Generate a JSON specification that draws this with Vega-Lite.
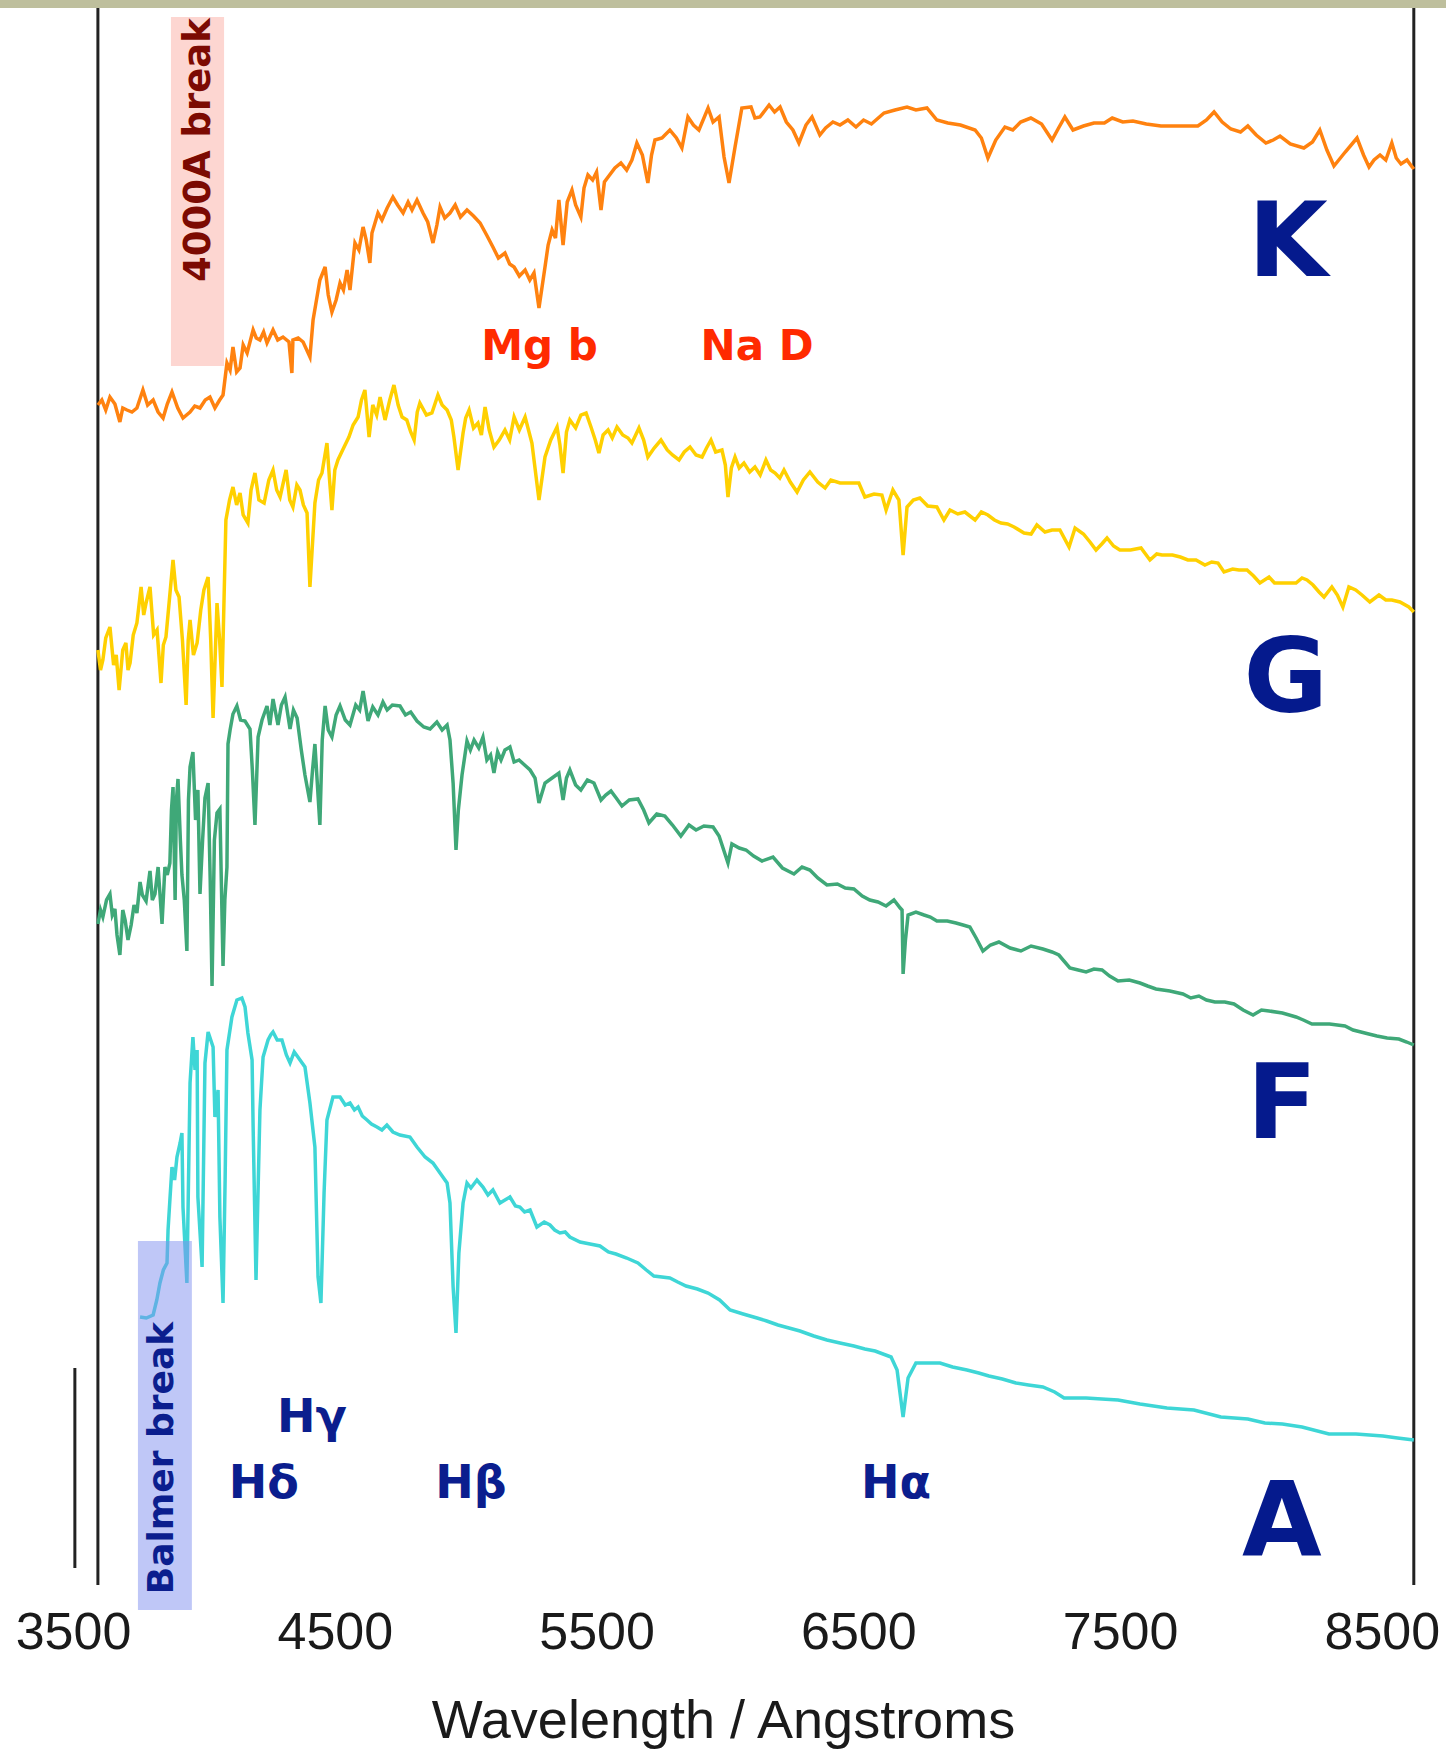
{
  "$schema": "https://vega.github.io/schema/vega-lite/v6.json",
  "width": 1446,
  "height": 1585,
  "autosize": {"type": "none"},
  "padding": {"left": 0, "top": 0, "right": 0, "bottom": 165},
  "background": "white",
  "config": {"view": {"stroke": null}},
  "encoding": {
    "x": {
      "field": "wavelength", "type": "quantitative",
      "scale": {"domain": [3221, 8745], "nice": false, "zero": false},
      "title": "Wavelength / Angstroms",
      "axis": {
        "values": [3500, 4500, 5500, 6500, 7500, 8500], "format": "d",
        "domain": false, "ticks": false, "grid": false,
        "labelFont": "Liberation Sans", "labelFontSize": 52, "labelColor": "#1a1a1a",
        "labelPadding": 22, "labelFlush": false, "labelOverlap": false,
        "titleFont": "Liberation Sans", "titleFontSize": 54, "titleFontWeight": "normal",
        "titleColor": "#1a1a1a", "titlePadding": 36
      }
    },
    "y": {
      "field": "flux", "type": "quantitative",
      "scale": {"domain": [15, 1600], "nice": false, "zero": false},
      "axis": null
    }
  },
  "layer": [
    {
      "data": {"values": [{"wavelength": 3221, "wavelength2": 8745, "flux": 1592, "flux2": 1600}]},
      "mark": {"type": "rect", "color": "#BEBF9D"},
      "encoding": {"x2": {"field": "wavelength2"}, "y2": {"field": "flux2"}}
    },
    {
      "data": {"values": [{"wavelength": 3874, "wavelength2": 4077, "flux": 1234, "flux2": 1583}]},
      "mark": {"type": "rect", "color": "#FDD6D1"},
      "encoding": {"x2": {"field": "wavelength2"}, "y2": {"field": "flux2"}}
    },
    {
      "data": {"values": [{"wavelength": 3981, "flux": 1450, "label": "4000A break"}]},
      "mark": {"type": "text", "angle": 270, "font": "DejaVu Sans", "fontWeight": "bold", "fontSize": 37, "color": "#7C0A02", "align": "center", "baseline": "middle"},
      "encoding": {"text": {"field": "label"}}
    },
    {
      "data": {"values": [
        {"wavelength": 3595, "flux": 15, "flux2": 1592},
        {"wavelength": 8622, "flux": 15, "flux2": 1592},
        {"wavelength": 3507, "flux": 32, "flux2": 232}
      ]},
      "mark": {"type": "rule", "color": "#222222", "strokeWidth": 3},
      "encoding": {"y2": {"field": "flux2"}}
    },
    {
      "data": {"values": [
{"star":"K","wavelength":3595,"flux":1195},{"star":"K","wavelength":3610,"flux":1200},{"star":"K","wavelength":3625,"flux":1190},{"star":"K","wavelength":3641,"flux":1203},{"star":"K","wavelength":3660,"flux":1196},{"star":"K","wavelength":3679,"flux":1178},{"star":"K","wavelength":3690,"flux":1192},{"star":"K","wavelength":3706,"flux":1190},{"star":"K","wavelength":3725,"flux":1188},{"star":"K","wavelength":3744,"flux":1192},{"star":"K","wavelength":3767,"flux":1210},{"star":"K","wavelength":3785,"flux":1195},{"star":"K","wavelength":3806,"flux":1200},{"star":"K","wavelength":3825,"flux":1188},{"star":"K","wavelength":3844,"flux":1182},{"star":"K","wavelength":3860,"flux":1196},{"star":"K","wavelength":3878,"flux":1208},{"star":"K","wavelength":3900,"flux":1192},{"star":"K","wavelength":3920,"flux":1182},{"star":"K","wavelength":3947,"flux":1188},{"star":"K","wavelength":3965,"flux":1194},{"star":"K","wavelength":3985,"flux":1192},{"star":"K","wavelength":4005,"flux":1200},{"star":"K","wavelength":4023,"flux":1203},{"star":"K","wavelength":4042,"flux":1192},{"star":"K","wavelength":4060,"flux":1200},{"star":"K","wavelength":4073,"flux":1205},{"star":"K","wavelength":4088,"flux":1237},{"star":"K","wavelength":4100,"flux":1230},{"star":"K","wavelength":4111,"flux":1253},{"star":"K","wavelength":4125,"flux":1228},{"star":"K","wavelength":4138,"flux":1232},{"star":"K","wavelength":4150,"flux":1255},{"star":"K","wavelength":4165,"flux":1247},{"star":"K","wavelength":4188,"flux":1270},{"star":"K","wavelength":4200,"flux":1262},{"star":"K","wavelength":4214,"flux":1260},{"star":"K","wavelength":4228,"flux":1268},{"star":"K","wavelength":4241,"flux":1257},{"star":"K","wavelength":4264,"flux":1270},{"star":"K","wavelength":4282,"flux":1260},{"star":"K","wavelength":4302,"flux":1263},{"star":"K","wavelength":4325,"flux":1258},{"star":"K","wavelength":4336,"flux":1227},{"star":"K","wavelength":4340,"flux":1260},{"star":"K","wavelength":4360,"flux":1262},{"star":"K","wavelength":4379,"flux":1258},{"star":"K","wavelength":4405,"flux":1243},{"star":"K","wavelength":4417,"flux":1280},{"star":"K","wavelength":4430,"flux":1300},{"star":"K","wavelength":4443,"flux":1320},{"star":"K","wavelength":4463,"flux":1333},{"star":"K","wavelength":4475,"flux":1305},{"star":"K","wavelength":4489,"flux":1288},{"star":"K","wavelength":4505,"flux":1300},{"star":"K","wavelength":4520,"flux":1317},{"star":"K","wavelength":4533,"flux":1310},{"star":"K","wavelength":4547,"flux":1330},{"star":"K","wavelength":4558,"flux":1310},{"star":"K","wavelength":4577,"flux":1357},{"star":"K","wavelength":4592,"flux":1350},{"star":"K","wavelength":4608,"flux":1373},{"star":"K","wavelength":4620,"flux":1360},{"star":"K","wavelength":4634,"flux":1337},{"star":"K","wavelength":4642,"flux":1367},{"star":"K","wavelength":4665,"flux":1387},{"star":"K","wavelength":4680,"flux":1380},{"star":"K","wavelength":4700,"flux":1392},{"star":"K","wavelength":4722,"flux":1403},{"star":"K","wavelength":4740,"flux":1395},{"star":"K","wavelength":4761,"flux":1387},{"star":"K","wavelength":4780,"flux":1398},{"star":"K","wavelength":4795,"flux":1390},{"star":"K","wavelength":4814,"flux":1400},{"star":"K","wavelength":4837,"flux":1387},{"star":"K","wavelength":4855,"flux":1378},{"star":"K","wavelength":4875,"flux":1357},{"star":"K","wavelength":4890,"flux":1375},{"star":"K","wavelength":4902,"flux":1393},{"star":"K","wavelength":4920,"flux":1382},{"star":"K","wavelength":4940,"flux":1387},{"star":"K","wavelength":4960,"flux":1395},{"star":"K","wavelength":4980,"flux":1383},{"star":"K","wavelength":5005,"flux":1390},{"star":"K","wavelength":5030,"flux":1384},{"star":"K","wavelength":5055,"flux":1377},{"star":"K","wavelength":5080,"flux":1365},{"star":"K","wavelength":5104,"flux":1353},{"star":"K","wavelength":5125,"flux":1342},{"star":"K","wavelength":5150,"flux":1347},{"star":"K","wavelength":5168,"flux":1336},{"star":"K","wavelength":5185,"flux":1333},{"star":"K","wavelength":5205,"flux":1324},{"star":"K","wavelength":5227,"flux":1330},{"star":"K","wavelength":5245,"flux":1320},{"star":"K","wavelength":5261,"flux":1327},{"star":"K","wavelength":5280,"flux":1292},{"star":"K","wavelength":5303,"flux":1333},{"star":"K","wavelength":5315,"flux":1355},{"star":"K","wavelength":5330,"flux":1370},{"star":"K","wavelength":5343,"flux":1362},{"star":"K","wavelength":5356,"flux":1400},{"star":"K","wavelength":5372,"flux":1355},{"star":"K","wavelength":5388,"flux":1398},{"star":"K","wavelength":5406,"flux":1410},{"star":"K","wavelength":5420,"flux":1395},{"star":"K","wavelength":5440,"flux":1383},{"star":"K","wavelength":5452,"flux":1412},{"star":"K","wavelength":5467,"flux":1425},{"star":"K","wavelength":5485,"flux":1420},{"star":"K","wavelength":5500,"flux":1428},{"star":"K","wavelength":5517,"flux":1390},{"star":"K","wavelength":5530,"flux":1418},{"star":"K","wavelength":5544,"flux":1423},{"star":"K","wavelength":5570,"flux":1432},{"star":"K","wavelength":5593,"flux":1437},{"star":"K","wavelength":5615,"flux":1430},{"star":"K","wavelength":5635,"flux":1440},{"star":"K","wavelength":5654,"flux":1457},{"star":"K","wavelength":5675,"flux":1445},{"star":"K","wavelength":5696,"flux":1417},{"star":"K","wavelength":5710,"flux":1445},{"star":"K","wavelength":5723,"flux":1460},{"star":"K","wavelength":5750,"flux":1462},{"star":"K","wavelength":5780,"flux":1470},{"star":"K","wavelength":5805,"flux":1462},{"star":"K","wavelength":5826,"flux":1452},{"star":"K","wavelength":5849,"flux":1483},{"star":"K","wavelength":5870,"flux":1475},{"star":"K","wavelength":5891,"flux":1470},{"star":"K","wavelength":5926,"flux":1492},{"star":"K","wavelength":5945,"flux":1478},{"star":"K","wavelength":5968,"flux":1483},{"star":"K","wavelength":5987,"flux":1443},{"star":"K","wavelength":6006,"flux":1417},{"star":"K","wavelength":6029,"flux":1453},{"star":"K","wavelength":6055,"flux":1492},{"star":"K","wavelength":6090,"flux":1493},{"star":"K","wavelength":6105,"flux":1482},{"star":"K","wavelength":6124,"flux":1483},{"star":"K","wavelength":6159,"flux":1495},{"star":"K","wavelength":6180,"flux":1488},{"star":"K","wavelength":6201,"flux":1493},{"star":"K","wavelength":6225,"flux":1478},{"star":"K","wavelength":6250,"flux":1470},{"star":"K","wavelength":6273,"flux":1457},{"star":"K","wavelength":6300,"flux":1475},{"star":"K","wavelength":6323,"flux":1483},{"star":"K","wavelength":6353,"flux":1465},{"star":"K","wavelength":6375,"flux":1472},{"star":"K","wavelength":6403,"flux":1478},{"star":"K","wavelength":6430,"flux":1475},{"star":"K","wavelength":6460,"flux":1480},{"star":"K","wavelength":6491,"flux":1473},{"star":"K","wavelength":6520,"flux":1480},{"star":"K","wavelength":6550,"flux":1476},{"star":"K","wavelength":6598,"flux":1487},{"star":"K","wavelength":6640,"flux":1490},{"star":"K","wavelength":6686,"flux":1493},{"star":"K","wavelength":6720,"flux":1490},{"star":"K","wavelength":6762,"flux":1492},{"star":"K","wavelength":6800,"flux":1480},{"star":"K","wavelength":6842,"flux":1477},{"star":"K","wavelength":6890,"flux":1475},{"star":"K","wavelength":6946,"flux":1470},{"star":"K","wavelength":6970,"flux":1462},{"star":"K","wavelength":6995,"flux":1442},{"star":"K","wavelength":7025,"flux":1460},{"star":"K","wavelength":7060,"flux":1473},{"star":"K","wavelength":7090,"flux":1470},{"star":"K","wavelength":7120,"flux":1478},{"star":"K","wavelength":7159,"flux":1482},{"star":"K","wavelength":7200,"flux":1476},{"star":"K","wavelength":7240,"flux":1460},{"star":"K","wavelength":7265,"flux":1472},{"star":"K","wavelength":7289,"flux":1483},{"star":"K","wavelength":7320,"flux":1470},{"star":"K","wavelength":7360,"flux":1474},{"star":"K","wavelength":7400,"flux":1477},{"star":"K","wavelength":7440,"flux":1477},{"star":"K","wavelength":7470,"flux":1482},{"star":"K","wavelength":7510,"flux":1478},{"star":"K","wavelength":7549,"flux":1479},{"star":"K","wavelength":7600,"flux":1476},{"star":"K","wavelength":7656,"flux":1474},{"star":"K","wavelength":7720,"flux":1474},{"star":"K","wavelength":7797,"flux":1474},{"star":"K","wavelength":7830,"flux":1480},{"star":"K","wavelength":7859,"flux":1488},{"star":"K","wavelength":7890,"flux":1478},{"star":"K","wavelength":7923,"flux":1471},{"star":"K","wavelength":7960,"flux":1468},{"star":"K","wavelength":7988,"flux":1474},{"star":"K","wavelength":8020,"flux":1465},{"star":"K","wavelength":8057,"flux":1457},{"star":"K","wavelength":8085,"flux":1460},{"star":"K","wavelength":8111,"flux":1464},{"star":"K","wavelength":8150,"flux":1456},{"star":"K","wavelength":8202,"flux":1452},{"star":"K","wavelength":8235,"flux":1458},{"star":"K","wavelength":8263,"flux":1470},{"star":"K","wavelength":8290,"flux":1450},{"star":"K","wavelength":8317,"flux":1434},{"star":"K","wavelength":8360,"flux":1448},{"star":"K","wavelength":8405,"flux":1462},{"star":"K","wavelength":8430,"flux":1445},{"star":"K","wavelength":8451,"flux":1433},{"star":"K","wavelength":8470,"flux":1440},{"star":"K","wavelength":8493,"flux":1445},{"star":"K","wavelength":8515,"flux":1440},{"star":"K","wavelength":8538,"flux":1457},{"star":"K","wavelength":8555,"flux":1442},{"star":"K","wavelength":8573,"flux":1436},{"star":"K","wavelength":8596,"flux":1440},{"star":"K","wavelength":8610,"flux":1435},{"star":"K","wavelength":8622,"flux":1431},
{"star":"G","wavelength":3595,"flux":950},{"star":"G","wavelength":3605,"flux":930},{"star":"G","wavelength":3614,"flux":940},{"star":"G","wavelength":3625,"flux":962},{"star":"G","wavelength":3641,"flux":973},{"star":"G","wavelength":3655,"flux":935},{"star":"G","wavelength":3665,"flux":945},{"star":"G","wavelength":3676,"flux":910},{"star":"G","wavelength":3690,"flux":950},{"star":"G","wavelength":3702,"flux":957},{"star":"G","wavelength":3710,"flux":930},{"star":"G","wavelength":3718,"flux":937},{"star":"G","wavelength":3730,"flux":965},{"star":"G","wavelength":3744,"flux":977},{"star":"G","wavelength":3760,"flux":1013},{"star":"G","wavelength":3770,"flux":985},{"star":"G","wavelength":3779,"flux":997},{"star":"G","wavelength":3794,"flux":1013},{"star":"G","wavelength":3808,"flux":965},{"star":"G","wavelength":3821,"flux":970},{"star":"G","wavelength":3836,"flux":917},{"star":"G","wavelength":3845,"flux":955},{"star":"G","wavelength":3855,"flux":963},{"star":"G","wavelength":3868,"flux":1000},{"star":"G","wavelength":3882,"flux":1040},{"star":"G","wavelength":3893,"flux":1010},{"star":"G","wavelength":3905,"flux":1003},{"star":"G","wavelength":3918,"flux":960},{"star":"G","wavelength":3932,"flux":895},{"star":"G","wavelength":3940,"flux":960},{"star":"G","wavelength":3947,"flux":980},{"star":"G","wavelength":3960,"flux":945},{"star":"G","wavelength":3974,"flux":957},{"star":"G","wavelength":3988,"flux":990},{"star":"G","wavelength":4000,"flux":1010},{"star":"G","wavelength":4016,"flux":1023},{"star":"G","wavelength":4026,"flux":960},{"star":"G","wavelength":4035,"flux":882},{"star":"G","wavelength":4050,"flux":997},{"star":"G","wavelength":4060,"flux":960},{"star":"G","wavelength":4069,"flux":913},{"star":"G","wavelength":4084,"flux":1080},{"star":"G","wavelength":4098,"flux":1100},{"star":"G","wavelength":4111,"flux":1113},{"star":"G","wavelength":4125,"flux":1095},{"star":"G","wavelength":4138,"flux":1107},{"star":"G","wavelength":4150,"flux":1085},{"star":"G","wavelength":4168,"flux":1077},{"star":"G","wavelength":4180,"flux":1110},{"star":"G","wavelength":4195,"flux":1127},{"star":"G","wavelength":4210,"flux":1100},{"star":"G","wavelength":4230,"flux":1097},{"star":"G","wavelength":4248,"flux":1120},{"star":"G","wavelength":4264,"flux":1130},{"star":"G","wavelength":4278,"flux":1110},{"star":"G","wavelength":4291,"flux":1103},{"star":"G","wavelength":4314,"flux":1130},{"star":"G","wavelength":4328,"flux":1100},{"star":"G","wavelength":4340,"flux":1093},{"star":"G","wavelength":4355,"flux":1115},{"star":"G","wavelength":4367,"flux":1110},{"star":"G","wavelength":4380,"flux":1095},{"star":"G","wavelength":4394,"flux":1087},{"star":"G","wavelength":4405,"flux":1013},{"star":"G","wavelength":4424,"flux":1097},{"star":"G","wavelength":4438,"flux":1120},{"star":"G","wavelength":4451,"flux":1127},{"star":"G","wavelength":4470,"flux":1157},{"star":"G","wavelength":4480,"flux":1120},{"star":"G","wavelength":4489,"flux":1090},{"star":"G","wavelength":4500,"flux":1130},{"star":"G","wavelength":4512,"flux":1140},{"star":"G","wavelength":4530,"flux":1150},{"star":"G","wavelength":4554,"flux":1163},{"star":"G","wavelength":4570,"flux":1175},{"star":"G","wavelength":4589,"flux":1183},{"star":"G","wavelength":4602,"flux":1200},{"star":"G","wavelength":4615,"flux":1210},{"star":"G","wavelength":4631,"flux":1163},{"star":"G","wavelength":4645,"flux":1195},{"star":"G","wavelength":4660,"flux":1185},{"star":"G","wavelength":4673,"flux":1203},{"star":"G","wavelength":4692,"flux":1180},{"star":"G","wavelength":4710,"flux":1200},{"star":"G","wavelength":4726,"flux":1215},{"star":"G","wavelength":4742,"flux":1195},{"star":"G","wavelength":4757,"flux":1183},{"star":"G","wavelength":4775,"flux":1180},{"star":"G","wavelength":4790,"flux":1168},{"star":"G","wavelength":4803,"flux":1160},{"star":"G","wavelength":4815,"flux":1188},{"star":"G","wavelength":4825,"flux":1197},{"star":"G","wavelength":4850,"flux":1185},{"star":"G","wavelength":4871,"flux":1187},{"star":"G","wavelength":4894,"flux":1205},{"star":"G","wavelength":4910,"flux":1195},{"star":"G","wavelength":4929,"flux":1190},{"star":"G","wavelength":4945,"flux":1180},{"star":"G","wavelength":4955,"flux":1163},{"star":"G","wavelength":4971,"flux":1130},{"star":"G","wavelength":4990,"flux":1167},{"star":"G","wavelength":5000,"flux":1182},{"star":"G","wavelength":5013,"flux":1190},{"star":"G","wavelength":5030,"flux":1172},{"star":"G","wavelength":5047,"flux":1177},{"star":"G","wavelength":5060,"flux":1165},{"star":"G","wavelength":5074,"flux":1193},{"star":"G","wavelength":5090,"flux":1170},{"star":"G","wavelength":5108,"flux":1153},{"star":"G","wavelength":5128,"flux":1160},{"star":"G","wavelength":5150,"flux":1170},{"star":"G","wavelength":5168,"flux":1160},{"star":"G","wavelength":5185,"flux":1183},{"star":"G","wavelength":5205,"flux":1170},{"star":"G","wavelength":5227,"flux":1183},{"star":"G","wavelength":5240,"flux":1170},{"star":"G","wavelength":5253,"flux":1157},{"star":"G","wavelength":5280,"flux":1100},{"star":"G","wavelength":5303,"flux":1143},{"star":"G","wavelength":5325,"flux":1160},{"star":"G","wavelength":5349,"flux":1173},{"star":"G","wavelength":5360,"flux":1155},{"star":"G","wavelength":5372,"flux":1127},{"star":"G","wavelength":5385,"flux":1168},{"star":"G","wavelength":5398,"flux":1180},{"star":"G","wavelength":5420,"flux":1172},{"star":"G","wavelength":5440,"flux":1185},{"star":"G","wavelength":5460,"flux":1187},{"star":"G","wavelength":5480,"flux":1172},{"star":"G","wavelength":5495,"flux":1160},{"star":"G","wavelength":5509,"flux":1147},{"star":"G","wavelength":5525,"flux":1165},{"star":"G","wavelength":5544,"flux":1170},{"star":"G","wavelength":5560,"flux":1162},{"star":"G","wavelength":5578,"flux":1173},{"star":"G","wavelength":5600,"flux":1165},{"star":"G","wavelength":5620,"flux":1162},{"star":"G","wavelength":5635,"flux":1157},{"star":"G","wavelength":5662,"flux":1172},{"star":"G","wavelength":5680,"flux":1160},{"star":"G","wavelength":5696,"flux":1143},{"star":"G","wavelength":5720,"flux":1152},{"star":"G","wavelength":5746,"flux":1160},{"star":"G","wavelength":5770,"flux":1150},{"star":"G","wavelength":5790,"flux":1145},{"star":"G","wavelength":5815,"flux":1140},{"star":"G","wavelength":5835,"flux":1148},{"star":"G","wavelength":5857,"flux":1153},{"star":"G","wavelength":5880,"flux":1145},{"star":"G","wavelength":5903,"flux":1143},{"star":"G","wavelength":5920,"flux":1152},{"star":"G","wavelength":5937,"flux":1160},{"star":"G","wavelength":5955,"flux":1148},{"star":"G","wavelength":5979,"flux":1150},{"star":"G","wavelength":5992,"flux":1135},{"star":"G","wavelength":6002,"flux":1103},{"star":"G","wavelength":6015,"flux":1132},{"star":"G","wavelength":6029,"flux":1143},{"star":"G","wavelength":6045,"flux":1132},{"star":"G","wavelength":6063,"flux":1137},{"star":"G","wavelength":6085,"flux":1128},{"star":"G","wavelength":6105,"flux":1133},{"star":"G","wavelength":6125,"flux":1125},{"star":"G","wavelength":6147,"flux":1140},{"star":"G","wavelength":6165,"flux":1130},{"star":"G","wavelength":6182,"flux":1127},{"star":"G","wavelength":6200,"flux":1122},{"star":"G","wavelength":6216,"flux":1130},{"star":"G","wavelength":6240,"flux":1118},{"star":"G","wavelength":6266,"flux":1108},{"star":"G","wavelength":6290,"flux":1120},{"star":"G","wavelength":6315,"flux":1128},{"star":"G","wavelength":6345,"flux":1118},{"star":"G","wavelength":6373,"flux":1112},{"star":"G","wavelength":6395,"flux":1120},{"star":"G","wavelength":6430,"flux":1117},{"star":"G","wavelength":6470,"flux":1117},{"star":"G","wavelength":6502,"flux":1117},{"star":"G","wavelength":6525,"flux":1103},{"star":"G","wavelength":6560,"flux":1106},{"star":"G","wavelength":6590,"flux":1105},{"star":"G","wavelength":6606,"flux":1090},{"star":"G","wavelength":6632,"flux":1110},{"star":"G","wavelength":6655,"flux":1100},{"star":"G","wavelength":6671,"flux":1045},{"star":"G","wavelength":6686,"flux":1093},{"star":"G","wavelength":6710,"flux":1100},{"star":"G","wavelength":6735,"flux":1102},{"star":"G","wavelength":6765,"flux":1094},{"star":"G","wavelength":6800,"flux":1093},{"star":"G","wavelength":6827,"flux":1080},{"star":"G","wavelength":6850,"flux":1090},{"star":"G","wavelength":6880,"flux":1086},{"star":"G","wavelength":6907,"flux":1088},{"star":"G","wavelength":6946,"flux":1080},{"star":"G","wavelength":6970,"flux":1088},{"star":"G","wavelength":6995,"flux":1085},{"star":"G","wavelength":7020,"flux":1080},{"star":"G","wavelength":7045,"flux":1077},{"star":"G","wavelength":7070,"flux":1076},{"star":"G","wavelength":7095,"flux":1073},{"star":"G","wavelength":7133,"flux":1067},{"star":"G","wavelength":7160,"flux":1066},{"star":"G","wavelength":7182,"flux":1075},{"star":"G","wavelength":7213,"flux":1068},{"star":"G","wavelength":7240,"flux":1070},{"star":"G","wavelength":7270,"flux":1070},{"star":"G","wavelength":7305,"flux":1053},{"star":"G","wavelength":7328,"flux":1072},{"star":"G","wavelength":7360,"flux":1066},{"star":"G","wavelength":7385,"flux":1058},{"star":"G","wavelength":7408,"flux":1050},{"star":"G","wavelength":7430,"flux":1056},{"star":"G","wavelength":7450,"flux":1062},{"star":"G","wavelength":7475,"flux":1054},{"star":"G","wavelength":7499,"flux":1050},{"star":"G","wavelength":7540,"flux":1050},{"star":"G","wavelength":7580,"flux":1052},{"star":"G","wavelength":7614,"flux":1040},{"star":"G","wavelength":7640,"flux":1046},{"star":"G","wavelength":7660,"flux":1045},{"star":"G","wavelength":7700,"flux":1045},{"star":"G","wavelength":7730,"flux":1043},{"star":"G","wavelength":7759,"flux":1040},{"star":"G","wavelength":7790,"flux":1040},{"star":"G","wavelength":7824,"flux":1035},{"star":"G","wavelength":7850,"flux":1038},{"star":"G","wavelength":7874,"flux":1037},{"star":"G","wavelength":7897,"flux":1028},{"star":"G","wavelength":7930,"flux":1031},{"star":"G","wavelength":7954,"flux":1030},{"star":"G","wavelength":7985,"flux":1030},{"star":"G","wavelength":8010,"flux":1024},{"star":"G","wavelength":8034,"flux":1017},{"star":"G","wavelength":8069,"flux":1023},{"star":"G","wavelength":8090,"flux":1017},{"star":"G","wavelength":8114,"flux":1017},{"star":"G","wavelength":8140,"flux":1017},{"star":"G","wavelength":8172,"flux":1017},{"star":"G","wavelength":8195,"flux":1022},{"star":"G","wavelength":8214,"flux":1020},{"star":"G","wavelength":8237,"flux":1015},{"star":"G","wavelength":8260,"flux":1008},{"star":"G","wavelength":8279,"flux":1003},{"star":"G","wavelength":8309,"flux":1013},{"star":"G","wavelength":8330,"flux":1005},{"star":"G","wavelength":8351,"flux":993},{"star":"G","wavelength":8374,"flux":1013},{"star":"G","wavelength":8400,"flux":1010},{"star":"G","wavelength":8424,"flux":1005},{"star":"G","wavelength":8454,"flux":998},{"star":"G","wavelength":8489,"flux":1005},{"star":"G","wavelength":8515,"flux":1000},{"star":"G","wavelength":8538,"flux":1000},{"star":"G","wavelength":8569,"flux":998},{"star":"G","wavelength":8603,"flux":993},{"star":"G","wavelength":8622,"flux":988},
{"star":"F","wavelength":3595,"flux":676},{"star":"F","wavelength":3605,"flux":690},{"star":"F","wavelength":3614,"flux":683},{"star":"F","wavelength":3628,"flux":700},{"star":"F","wavelength":3641,"flux":706},{"star":"F","wavelength":3650,"flux":685},{"star":"F","wavelength":3660,"flux":691},{"star":"F","wavelength":3668,"flux":665},{"star":"F","wavelength":3679,"flux":645},{"star":"F","wavelength":3690,"flux":690},{"star":"F","wavelength":3699,"flux":680},{"star":"F","wavelength":3710,"flux":660},{"star":"F","wavelength":3722,"flux":675},{"star":"F","wavelength":3733,"flux":695},{"star":"F","wavelength":3744,"flux":687},{"star":"F","wavelength":3756,"flux":718},{"star":"F","wavelength":3765,"flux":705},{"star":"F","wavelength":3779,"flux":699},{"star":"F","wavelength":3794,"flux":729},{"star":"F","wavelength":3803,"flux":700},{"star":"F","wavelength":3813,"flux":706},{"star":"F","wavelength":3825,"flux":733},{"star":"F","wavelength":3840,"flux":676},{"star":"F","wavelength":3851,"flux":733},{"star":"F","wavelength":3860,"flux":725},{"star":"F","wavelength":3870,"flux":737},{"star":"F","wavelength":3876,"flux":790},{"star":"F","wavelength":3882,"flux":813},{"star":"F","wavelength":3890,"flux":700},{"star":"F","wavelength":3895,"flux":800},{"star":"F","wavelength":3901,"flux":821},{"star":"F","wavelength":3910,"flux":760},{"star":"F","wavelength":3916,"flux":725},{"star":"F","wavelength":3925,"flux":700},{"star":"F","wavelength":3935,"flux":649},{"star":"F","wavelength":3941,"flux":800},{"star":"F","wavelength":3947,"flux":833},{"star":"F","wavelength":3958,"flux":848},{"star":"F","wavelength":3968,"flux":780},{"star":"F","wavelength":3977,"flux":810},{"star":"F","wavelength":3985,"flux":706},{"star":"F","wavelength":3995,"flux":760},{"star":"F","wavelength":4004,"flux":802},{"star":"F","wavelength":4016,"flux":817},{"star":"F","wavelength":4024,"flux":720},{"star":"F","wavelength":4031,"flux":614},{"star":"F","wavelength":4040,"flux":760},{"star":"F","wavelength":4050,"flux":787},{"star":"F","wavelength":4061,"flux":791},{"star":"F","wavelength":4073,"flux":634},{"star":"F","wavelength":4080,"flux":700},{"star":"F","wavelength":4088,"flux":733},{"star":"F","wavelength":4092,"flux":856},{"star":"F","wavelength":4100,"flux":870},{"star":"F","wavelength":4111,"flux":886},{"star":"F","wavelength":4126,"flux":894},{"star":"F","wavelength":4140,"flux":880},{"star":"F","wavelength":4157,"flux":879},{"star":"F","wavelength":4176,"flux":871},{"star":"F","wavelength":4185,"flux":830},{"star":"F","wavelength":4195,"flux":775},{"star":"F","wavelength":4207,"flux":863},{"star":"F","wavelength":4222,"flux":880},{"star":"F","wavelength":4241,"flux":894},{"star":"F","wavelength":4252,"flux":875},{"star":"F","wavelength":4264,"flux":901},{"star":"F","wavelength":4283,"flux":875},{"star":"F","wavelength":4296,"flux":895},{"star":"F","wavelength":4310,"flux":903},{"star":"F","wavelength":4329,"flux":871},{"star":"F","wavelength":4342,"flux":890},{"star":"F","wavelength":4356,"flux":882},{"star":"F","wavelength":4372,"flux":850},{"star":"F","wavelength":4386,"flux":825},{"star":"F","wavelength":4405,"flux":798},{"star":"F","wavelength":4415,"flux":830},{"star":"F","wavelength":4424,"flux":856},{"star":"F","wavelength":4443,"flux":775},{"star":"F","wavelength":4452,"flux":860},{"star":"F","wavelength":4463,"flux":894},{"star":"F","wavelength":4475,"flux":870},{"star":"F","wavelength":4489,"flux":863},{"star":"F","wavelength":4505,"flux":885},{"star":"F","wavelength":4520,"flux":894},{"star":"F","wavelength":4540,"flux":880},{"star":"F","wavelength":4558,"flux":875},{"star":"F","wavelength":4580,"flux":895},{"star":"F","wavelength":4595,"flux":890},{"star":"F","wavelength":4608,"flux":909},{"star":"F","wavelength":4627,"flux":879},{"star":"F","wavelength":4645,"flux":893},{"star":"F","wavelength":4665,"flux":885},{"star":"F","wavelength":4684,"flux":898},{"star":"F","wavelength":4700,"flux":890},{"star":"F","wavelength":4720,"flux":895},{"star":"F","wavelength":4749,"flux":894},{"star":"F","wavelength":4770,"flux":885},{"star":"F","wavelength":4790,"flux":888},{"star":"F","wavelength":4814,"flux":879},{"star":"F","wavelength":4840,"flux":873},{"star":"F","wavelength":4864,"flux":871},{"star":"F","wavelength":4890,"flux":878},{"star":"F","wavelength":4910,"flux":870},{"star":"F","wavelength":4929,"flux":875},{"star":"F","wavelength":4940,"flux":860},{"star":"F","wavelength":4952,"flux":817},{"star":"F","wavelength":4963,"flux":750},{"star":"F","wavelength":4972,"flux":790},{"star":"F","wavelength":4986,"flux":825},{"star":"F","wavelength":5005,"flux":859},{"star":"F","wavelength":5018,"flux":850},{"star":"F","wavelength":5032,"flux":860},{"star":"F","wavelength":5050,"flux":852},{"star":"F","wavelength":5066,"flux":863},{"star":"F","wavelength":5081,"flux":840},{"star":"F","wavelength":5095,"flux":845},{"star":"F","wavelength":5108,"flux":827},{"star":"F","wavelength":5122,"flux":848},{"star":"F","wavelength":5135,"flux":840},{"star":"F","wavelength":5150,"flux":850},{"star":"F","wavelength":5169,"flux":853},{"star":"F","wavelength":5185,"flux":838},{"star":"F","wavelength":5204,"flux":840},{"star":"F","wavelength":5225,"flux":835},{"star":"F","wavelength":5246,"flux":830},{"star":"F","wavelength":5265,"flux":822},{"star":"F","wavelength":5280,"flux":797},{"star":"F","wavelength":5303,"flux":817},{"star":"F","wavelength":5330,"flux":822},{"star":"F","wavelength":5356,"flux":827},{"star":"F","wavelength":5372,"flux":800},{"star":"F","wavelength":5385,"flux":822},{"star":"F","wavelength":5398,"flux":830},{"star":"F","wavelength":5420,"flux":815},{"star":"F","wavelength":5440,"flux":810},{"star":"F","wavelength":5465,"flux":820},{"star":"F","wavelength":5490,"flux":817},{"star":"F","wavelength":5517,"flux":800},{"star":"F","wavelength":5535,"flux":805},{"star":"F","wavelength":5555,"flux":809},{"star":"F","wavelength":5575,"flux":802},{"star":"F","wavelength":5597,"flux":794},{"star":"F","wavelength":5625,"flux":800},{"star":"F","wavelength":5658,"flux":801},{"star":"F","wavelength":5680,"flux":790},{"star":"F","wavelength":5700,"flux":777},{"star":"F","wavelength":5730,"flux":786},{"star":"F","wavelength":5761,"flux":784},{"star":"F","wavelength":5790,"flux":775},{"star":"F","wavelength":5822,"flux":764},{"star":"F","wavelength":5853,"flux":775},{"star":"F","wavelength":5880,"flux":770},{"star":"F","wavelength":5910,"flux":774},{"star":"F","wavelength":5945,"flux":773},{"star":"F","wavelength":5968,"flux":764},{"star":"F","wavelength":6002,"flux":737},{"star":"F","wavelength":6017,"flux":756},{"star":"F","wavelength":6045,"flux":752},{"star":"F","wavelength":6071,"flux":750},{"star":"F","wavelength":6100,"flux":744},{"star":"F","wavelength":6132,"flux":739},{"star":"F","wavelength":6174,"flux":743},{"star":"F","wavelength":6210,"flux":732},{"star":"F","wavelength":6254,"flux":726},{"star":"F","wavelength":6285,"flux":733},{"star":"F","wavelength":6315,"flux":730},{"star":"F","wavelength":6345,"flux":722},{"star":"F","wavelength":6380,"flux":715},{"star":"F","wavelength":6420,"flux":716},{"star":"F","wavelength":6450,"flux":712},{"star":"F","wavelength":6483,"flux":711},{"star":"F","wavelength":6515,"flux":704},{"star":"F","wavelength":6544,"flux":700},{"star":"F","wavelength":6575,"flux":698},{"star":"F","wavelength":6606,"flux":694},{"star":"F","wavelength":6636,"flux":700},{"star":"F","wavelength":6660,"flux":692},{"star":"F","wavelength":6667,"flux":690},{"star":"F","wavelength":6671,"flux":626},{"star":"F","wavelength":6680,"flux":660},{"star":"F","wavelength":6690,"flux":685},{"star":"F","wavelength":6720,"flux":688},{"star":"F","wavelength":6751,"flux":685},{"star":"F","wavelength":6775,"flux":683},{"star":"F","wavelength":6800,"flux":679},{"star":"F","wavelength":6840,"flux":679},{"star":"F","wavelength":6873,"flux":677},{"star":"F","wavelength":6900,"flux":675},{"star":"F","wavelength":6926,"flux":673},{"star":"F","wavelength":6950,"flux":662},{"star":"F","wavelength":6976,"flux":649},{"star":"F","wavelength":7005,"flux":655},{"star":"F","wavelength":7037,"flux":658},{"star":"F","wavelength":7080,"flux":652},{"star":"F","wavelength":7121,"flux":649},{"star":"F","wavelength":7160,"flux":654},{"star":"F","wavelength":7205,"flux":651},{"star":"F","wavelength":7240,"flux":648},{"star":"F","wavelength":7266,"flux":645},{"star":"F","wavelength":7308,"flux":632},{"star":"F","wavelength":7340,"flux":630},{"star":"F","wavelength":7370,"flux":628},{"star":"F","wavelength":7400,"flux":631},{"star":"F","wavelength":7431,"flux":630},{"star":"F","wavelength":7460,"flux":624},{"star":"F","wavelength":7492,"flux":619},{"star":"F","wavelength":7535,"flux":620},{"star":"F","wavelength":7576,"flux":617},{"star":"F","wavelength":7605,"flux":614},{"star":"F","wavelength":7637,"flux":611},{"star":"F","wavelength":7690,"flux":609},{"star":"F","wavelength":7740,"flux":606},{"star":"F","wavelength":7770,"flux":602},{"star":"F","wavelength":7801,"flux":604},{"star":"F","wavelength":7830,"flux":600},{"star":"F","wavelength":7862,"flux":598},{"star":"F","wavelength":7900,"flux":598},{"star":"F","wavelength":7935,"flux":596},{"star":"F","wavelength":7970,"flux":590},{"star":"F","wavelength":8008,"flux":585},{"star":"F","wavelength":8040,"flux":590},{"star":"F","wavelength":8069,"flux":589},{"star":"F","wavelength":8120,"flux":587},{"star":"F","wavelength":8172,"flux":583},{"star":"F","wavelength":8200,"flux":580},{"star":"F","wavelength":8233,"flux":576},{"star":"F","wavelength":8300,"flux":576},{"star":"F","wavelength":8359,"flux":574},{"star":"F","wavelength":8390,"flux":570},{"star":"F","wavelength":8420,"flux":568},{"star":"F","wavelength":8450,"flux":566},{"star":"F","wavelength":8481,"flux":564},{"star":"F","wavelength":8520,"flux":562},{"star":"F","wavelength":8565,"flux":561},{"star":"F","wavelength":8595,"flux":558},{"star":"F","wavelength":8622,"flux":555},
{"star":"A","wavelength":3756,"flux":283},{"star":"A","wavelength":3780,"flux":282},{"star":"A","wavelength":3806,"flux":285},{"star":"A","wavelength":3820,"flux":300},{"star":"A","wavelength":3832,"flux":317},{"star":"A","wavelength":3845,"flux":330},{"star":"A","wavelength":3859,"flux":337},{"star":"A","wavelength":3863,"flux":370},{"star":"A","wavelength":3870,"flux":400},{"star":"A","wavelength":3878,"flux":433},{"star":"A","wavelength":3888,"flux":420},{"star":"A","wavelength":3897,"flux":443},{"star":"A","wavelength":3909,"flux":457},{"star":"A","wavelength":3916,"flux":467},{"star":"A","wavelength":3920,"flux":393},{"star":"A","wavelength":3935,"flux":317},{"star":"A","wavelength":3947,"flux":517},{"star":"A","wavelength":3958,"flux":563},{"star":"A","wavelength":3966,"flux":530},{"star":"A","wavelength":3974,"flux":550},{"star":"A","wavelength":3977,"flux":403},{"star":"A","wavelength":3993,"flux":333},{"star":"A","wavelength":4004,"flux":537},{"star":"A","wavelength":4016,"flux":568},{"star":"A","wavelength":4035,"flux":553},{"star":"A","wavelength":4042,"flux":483},{"star":"A","wavelength":4054,"flux":510},{"star":"A","wavelength":4061,"flux":383},{"star":"A","wavelength":4073,"flux":297},{"star":"A","wavelength":4081,"flux":420},{"star":"A","wavelength":4088,"flux":550},{"star":"A","wavelength":4107,"flux":583},{"star":"A","wavelength":4126,"flux":600},{"star":"A","wavelength":4145,"flux":602},{"star":"A","wavelength":4157,"flux":593},{"star":"A","wavelength":4168,"flux":567},{"star":"A","wavelength":4184,"flux":540},{"star":"A","wavelength":4188,"flux":473},{"star":"A","wavelength":4199,"flux":320},{"star":"A","wavelength":4214,"flux":490},{"star":"A","wavelength":4226,"flux":543},{"star":"A","wavelength":4245,"flux":560},{"star":"A","wavelength":4255,"flux":565},{"star":"A","wavelength":4264,"flux":568},{"star":"A","wavelength":4280,"flux":560},{"star":"A","wavelength":4298,"flux":560},{"star":"A","wavelength":4315,"flux":545},{"star":"A","wavelength":4329,"flux":537},{"star":"A","wavelength":4345,"flux":548},{"star":"A","wavelength":4359,"flux":543},{"star":"A","wavelength":4386,"flux":533},{"star":"A","wavelength":4405,"flux":497},{"star":"A","wavelength":4424,"flux":453},{"star":"A","wavelength":4436,"flux":323},{"star":"A","wavelength":4447,"flux":297},{"star":"A","wavelength":4459,"flux":407},{"star":"A","wavelength":4470,"flux":480},{"star":"A","wavelength":4493,"flux":503},{"star":"A","wavelength":4520,"flux":503},{"star":"A","wavelength":4540,"flux":495},{"star":"A","wavelength":4558,"flux":497},{"star":"A","wavelength":4575,"flux":490},{"star":"A","wavelength":4589,"flux":493},{"star":"A","wavelength":4605,"flux":484},{"star":"A","wavelength":4623,"flux":480},{"star":"A","wavelength":4640,"flux":476},{"star":"A","wavelength":4661,"flux":473},{"star":"A","wavelength":4680,"flux":470},{"star":"A","wavelength":4699,"flux":475},{"star":"A","wavelength":4722,"flux":468},{"star":"A","wavelength":4749,"flux":465},{"star":"A","wavelength":4787,"flux":463},{"star":"A","wavelength":4814,"flux":453},{"star":"A","wavelength":4845,"flux":443},{"star":"A","wavelength":4875,"flux":437},{"star":"A","wavelength":4902,"flux":427},{"star":"A","wavelength":4929,"flux":417},{"star":"A","wavelength":4940,"flux":397},{"star":"A","wavelength":4952,"flux":313},{"star":"A","wavelength":4963,"flux":267},{"star":"A","wavelength":4974,"flux":347},{"star":"A","wavelength":4990,"flux":397},{"star":"A","wavelength":5005,"flux":417},{"star":"A","wavelength":5020,"flux":412},{"star":"A","wavelength":5043,"flux":420},{"star":"A","wavelength":5066,"flux":413},{"star":"A","wavelength":5085,"flux":405},{"star":"A","wavelength":5104,"flux":410},{"star":"A","wavelength":5131,"flux":397},{"star":"A","wavelength":5150,"flux":400},{"star":"A","wavelength":5169,"flux":403},{"star":"A","wavelength":5190,"flux":394},{"star":"A","wavelength":5207,"flux":393},{"star":"A","wavelength":5225,"flux":388},{"star":"A","wavelength":5246,"flux":390},{"star":"A","wavelength":5272,"flux":373},{"star":"A","wavelength":5300,"flux":378},{"star":"A","wavelength":5322,"flux":375},{"star":"A","wavelength":5340,"flux":370},{"star":"A","wavelength":5360,"flux":367},{"star":"A","wavelength":5380,"flux":368},{"star":"A","wavelength":5398,"flux":363},{"star":"A","wavelength":5437,"flux":358},{"star":"A","wavelength":5475,"flux":356},{"star":"A","wavelength":5513,"flux":354},{"star":"A","wavelength":5545,"flux":348},{"star":"A","wavelength":5574,"flux":346},{"star":"A","wavelength":5615,"flux":342},{"star":"A","wavelength":5658,"flux":337},{"star":"A","wavelength":5690,"flux":330},{"star":"A","wavelength":5719,"flux":324},{"star":"A","wavelength":5780,"flux":322},{"star":"A","wavelength":5810,"flux":318},{"star":"A","wavelength":5842,"flux":314},{"star":"A","wavelength":5885,"flux":311},{"star":"A","wavelength":5926,"flux":307},{"star":"A","wavelength":5970,"flux":300},{"star":"A","wavelength":6010,"flux":290},{"star":"A","wavelength":6060,"flux":286},{"star":"A","wavelength":6113,"flux":282},{"star":"A","wavelength":6150,"flux":279},{"star":"A","wavelength":6193,"flux":275},{"star":"A","wavelength":6235,"flux":272},{"star":"A","wavelength":6277,"flux":269},{"star":"A","wavelength":6330,"flux":264},{"star":"A","wavelength":6380,"flux":260},{"star":"A","wavelength":6430,"flux":257},{"star":"A","wavelength":6483,"flux":254},{"star":"A","wavelength":6525,"flux":251},{"star":"A","wavelength":6564,"flux":249},{"star":"A","wavelength":6625,"flux":243},{"star":"A","wavelength":6648,"flux":230},{"star":"A","wavelength":6671,"flux":183},{"star":"A","wavelength":6690,"flux":222},{"star":"A","wavelength":6720,"flux":237},{"star":"A","wavelength":6765,"flux":237},{"star":"A","wavelength":6812,"flux":237},{"star":"A","wavelength":6860,"flux":233},{"star":"A","wavelength":6915,"flux":230},{"star":"A","wavelength":6960,"flux":227},{"star":"A","wavelength":6999,"flux":224},{"star":"A","wavelength":7050,"flux":221},{"star":"A","wavelength":7102,"flux":217},{"star":"A","wavelength":7150,"flux":215},{"star":"A","wavelength":7205,"flux":213},{"star":"A","wavelength":7250,"flux":208},{"star":"A","wavelength":7286,"flux":202},{"star":"A","wavelength":7330,"flux":202},{"star":"A","wavelength":7370,"flux":202},{"star":"A","wavelength":7430,"flux":201},{"star":"A","wavelength":7492,"flux":200},{"star":"A","wavelength":7576,"flux":196},{"star":"A","wavelength":7679,"flux":192},{"star":"A","wavelength":7782,"flux":190},{"star":"A","wavelength":7885,"flux":183},{"star":"A","wavelength":7988,"flux":181},{"star":"A","wavelength":8053,"flux":177},{"star":"A","wavelength":8120,"flux":176},{"star":"A","wavelength":8195,"flux":173},{"star":"A","wavelength":8298,"flux":166},{"star":"A","wavelength":8401,"flux":166},{"star":"A","wavelength":8504,"flux":164},{"star":"A","wavelength":8560,"flux":162},{"star":"A","wavelength":8622,"flux":160}
      ]},
      "mark": {"type": "line", "strokeWidth": 3.5, "interpolate": "linear"},
      "encoding": {
        "color": {"field": "star", "type": "nominal", "legend": null,
          "scale": {"domain": ["K", "G", "F", "A"], "range": ["#FF820F", "#FFD000", "#3FA878", "#3ED6D6"]}}
      }
    },
    {
      "data": {"values": [{"wavelength": 3748, "wavelength2": 3954, "flux": -10, "flux2": 359}]},
      "mark": {"type": "rect", "color": "#7F8FF0", "opacity": 0.5},
      "encoding": {"x2": {"field": "wavelength2"}, "y2": {"field": "flux2"}}
    },
    {
      "data": {"values": [{"wavelength": 3840, "flux": 142, "label": "Balmer break"}]},
      "mark": {"type": "text", "angle": 270, "font": "DejaVu Sans", "fontWeight": "bold", "fontSize": 36, "color": "#0B1E8E", "align": "center", "baseline": "middle"},
      "encoding": {"text": {"field": "label"}}
    },
    {
      "data": {"values": [
        {"label": "K", "wavelength": 8141, "flux": 1324},
        {"label": "G", "wavelength": 8133, "flux": 888},
        {"label": "F", "wavelength": 8118, "flux": 462},
        {"label": "A", "wavelength": 8118, "flux": 44}
      ]},
      "mark": {"type": "text", "font": "DejaVu Sans", "fontWeight": "bold", "fontSize": 103, "color": "#051A8D", "align": "center", "baseline": "alphabetic"},
      "encoding": {"text": {"field": "label"}}
    },
    {
      "data": {"values": [
        {"label": "Mg b", "wavelength": 5282, "flux": 1240},
        {"label": "Na D", "wavelength": 6113, "flux": 1240}
      ]},
      "mark": {"type": "text", "font": "DejaVu Sans", "fontWeight": "bold", "fontSize": 42, "color": "#FF2A00", "align": "center", "baseline": "alphabetic"},
      "encoding": {"text": {"field": "label"}}
    },
    {
      "data": {"values": [
        {"label": "Hγ", "wavelength": 4413, "flux": 168},
        {"label": "Hδ", "wavelength": 4229, "flux": 102},
        {"label": "Hβ", "wavelength": 5020, "flux": 102},
        {"label": "Hα", "wavelength": 6644, "flux": 102}
      ]},
      "mark": {"type": "text", "font": "DejaVu Sans", "fontWeight": "bold", "fontSize": 46, "color": "#0B1E8E", "align": "center", "baseline": "alphabetic"},
      "encoding": {"text": {"field": "label"}}
    }
  ]
}
